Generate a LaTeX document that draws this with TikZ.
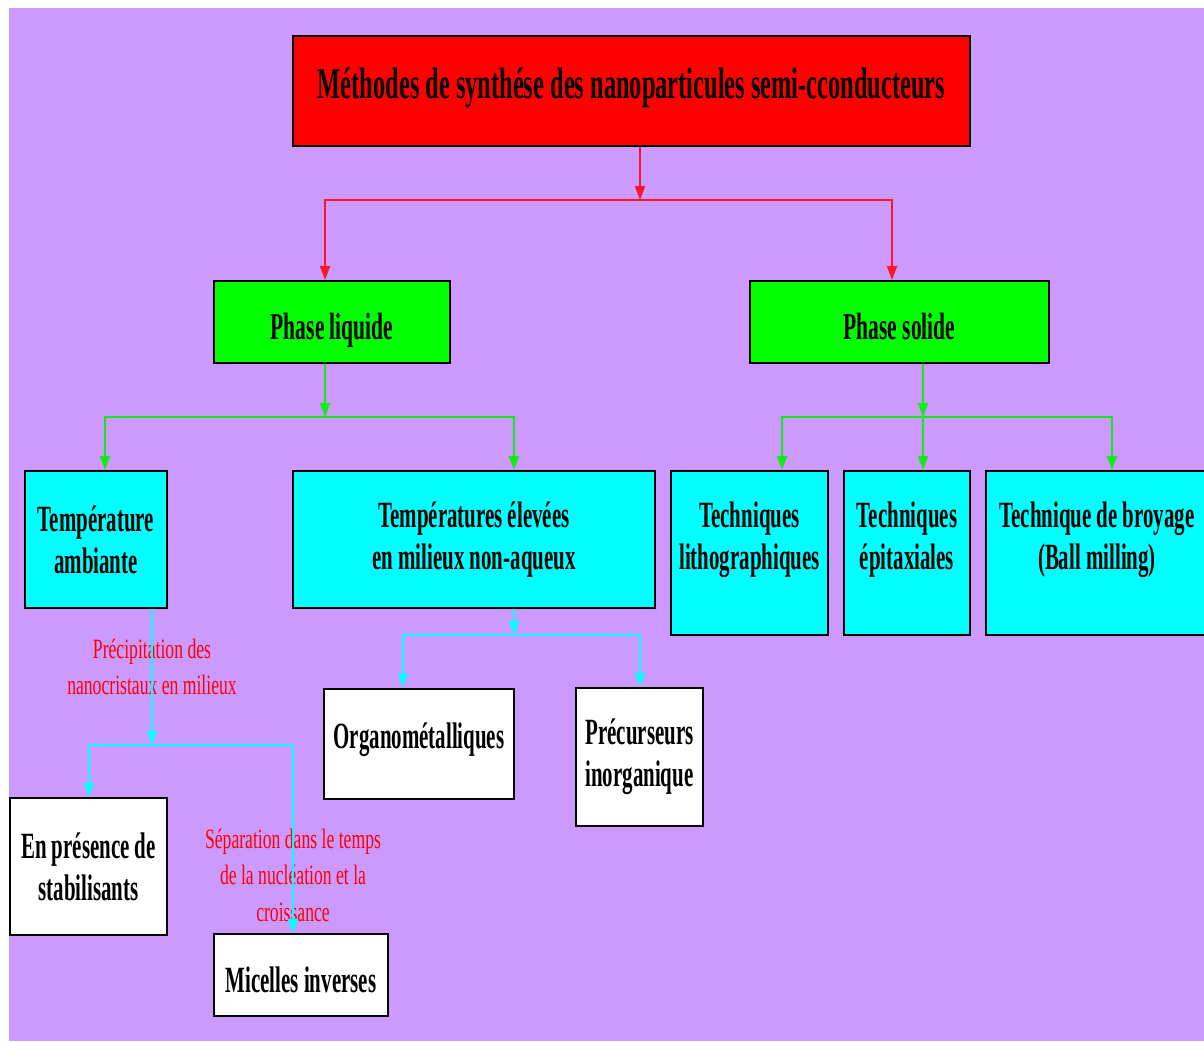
\documentclass[tikz,border=0pt]{standalone}
\usepackage{fontspec}
\newfontfamily\titlefont[FakeStretch=0.555]{Liberation Serif}
\newfontfamily\boxfont[FakeStretch=0.565]{Liberation Serif}
\newfontfamily\notefont[FakeStretch=0.63]{Liberation Serif}
\usetikzlibrary{arrows.meta, positioning, calc}

\definecolor{bgpurple}{RGB}{204,153,255}
\definecolor{boxred}{RGB}{255,0,0}
\definecolor{boxgreen}{RGB}{0,255,0}
\definecolor{boxcyan}{RGB}{0,255,255}
\definecolor{linkred}{RGB}{255,20,40}
\definecolor{linkgreen}{RGB}{20,235,20}
\definecolor{linkcyan}{RGB}{0,255,255}

\begin{document}
\begin{tikzpicture}[x=1pt, y=-1pt, >={Triangle[length=14pt,width=10pt]},
  every node/.style={align=center},
  box/.style={draw=black, line width=2pt, inner sep=0pt},
  mainbox/.style={box, fill=boxred, text height=32pt, text depth=18pt,
    font=\titlefont\bfseries\fontsize{44}{48}\selectfont},
  phasebox/.style={box, fill=boxgreen, text height=34pt, text depth=0pt,
    font=\boxfont\bfseries\fontsize{38}{42}\selectfont},
  methbox/.style={box, fill=boxcyan, font=\boxfont\bfseries\fontsize{37}{42}\selectfont},
  leafbox/.style={box, fill=white, font=\boxfont\bfseries\fontsize{37}{42}\selectfont},
  note/.style={text=red, font=\notefont\fontsize{28}{36.5}\selectfont},
  redlink/.style={draw=linkred, line width=2pt},
  greenlink/.style={draw=linkgreen, line width=2pt},
  cyanlink/.style={draw=linkcyan, line width=2pt}
]
  \useasboundingbox (0,0) rectangle (1204,1041);
  \clip (0,0) rectangle (1204,1041);
  \fill[white] (0,0) rectangle (1204,1041);
  \fill[bgpurple] (9,8) rectangle (1204,1041);

  % boxes
  \node[mainbox, minimum width=677pt, minimum height=110pt] (title) at (631.5,91) {Méthodes de synthése des nanoparticules semi-cconducteurs};

  \node[phasebox, minimum width=236pt, minimum height=82pt] (liquide) at (332,322) {Phase liquide};
  \node[phasebox, minimum width=299pt, minimum height=82pt] (solide) at (899.5,322) {Phase solide};

  \node[methbox, minimum width=142pt, minimum height=137pt] (ambiante) at (96,539.5) {Température\\ambiante};
  \node[methbox, minimum width=362pt, minimum height=137pt] (elevees) at (474,539.5) {Températures élevées\\en milieux non-aqueux};
  \node[methbox, minimum width=157pt, minimum height=164pt, text depth=35pt] (litho) at (749.5,553) {Techniques\\lithographiques};
  \node[methbox, minimum width=126pt, minimum height=164pt, text depth=35pt] (epitax) at (907,553) {Techniques\\épitaxiales};
  \node[methbox, minimum width=222pt, minimum height=164pt, text depth=35pt] (broyage) at (1097,553) {Technique de broyage\\(Ball milling)};

  \node[leafbox, minimum width=190pt, minimum height=110pt, text height=28pt, text depth=19pt] (organo) at (419,743.5) {Organométalliques};
  \node[leafbox, minimum width=127pt, minimum height=138pt] (precurs) at (639.5,757) {Précurseurs\\inorganique};
  \node[leafbox, minimum width=157pt, minimum height=137pt] (stabil) at (88.5,866.5) {En présence de\\stabilisants};
  \node[leafbox, minimum width=174pt, minimum height=82pt, text height=34pt, text depth=0pt] (micelles) at (301,975) {Micelles inverses};

  % red notes on the lines
  \node[note] (precip) at (152,667) {Précipitation des\\nanocristaux en milieux};
  \node[note] (separ) at (293,875) {Séparation dans le temps\\de la nucléation et la\\croissance};

  % split points
  \coordinate (redsplit) at (640,200);
  \coordinate (liqsplit) at (325,417);
  \coordinate (solsplit) at (923,417);
  \coordinate (elesplit) at (514,635);
  \coordinate (ambsplit) at (152,745);

  \draw[redlink,->] ([xshift=8.5pt]title.south) -- (redsplit);
  \draw[redlink,->] (redsplit) -| ([xshift=-7pt]liquide.north);
  \draw[redlink,->] (redsplit) -| ([xshift=-7.5pt]solide.north);

  \draw[greenlink,->] ([xshift=-7pt]liquide.south) -- (liqsplit);
  \draw[greenlink,->] (liqsplit) -| ([xshift=9pt]ambiante.north);
  \draw[greenlink,->] (liqsplit) -| ([xshift=40pt]elevees.north);

  \draw[greenlink,->] ([xshift=23.5pt]solide.south) -- (solsplit);
  \draw[greenlink,->] (solsplit) -| ([xshift=32.5pt]litho.north);
  \draw[greenlink,->] (solsplit) -- ([xshift=16pt]epitax.north);
  \draw[greenlink,->] (solsplit) -| ([xshift=15pt]broyage.north);

  \draw[cyanlink,->] ([xshift=40pt]elevees.south) -- (elesplit);
  \draw[cyanlink,->] (elesplit) -| ([xshift=-16pt]organo.north);
  \draw[cyanlink,->] (elesplit) -| ([xshift=0.5pt]precurs.north);

  \draw[cyanlink,->] ([xshift=56pt]ambiante.south) -- (ambsplit);
  \draw[cyanlink,->] (ambsplit) -| ([xshift=0.5pt]stabil.north);
  \draw[cyanlink,->] (ambsplit) -| ([xshift=-8pt]micelles.north);
\end{tikzpicture}
\end{document}
